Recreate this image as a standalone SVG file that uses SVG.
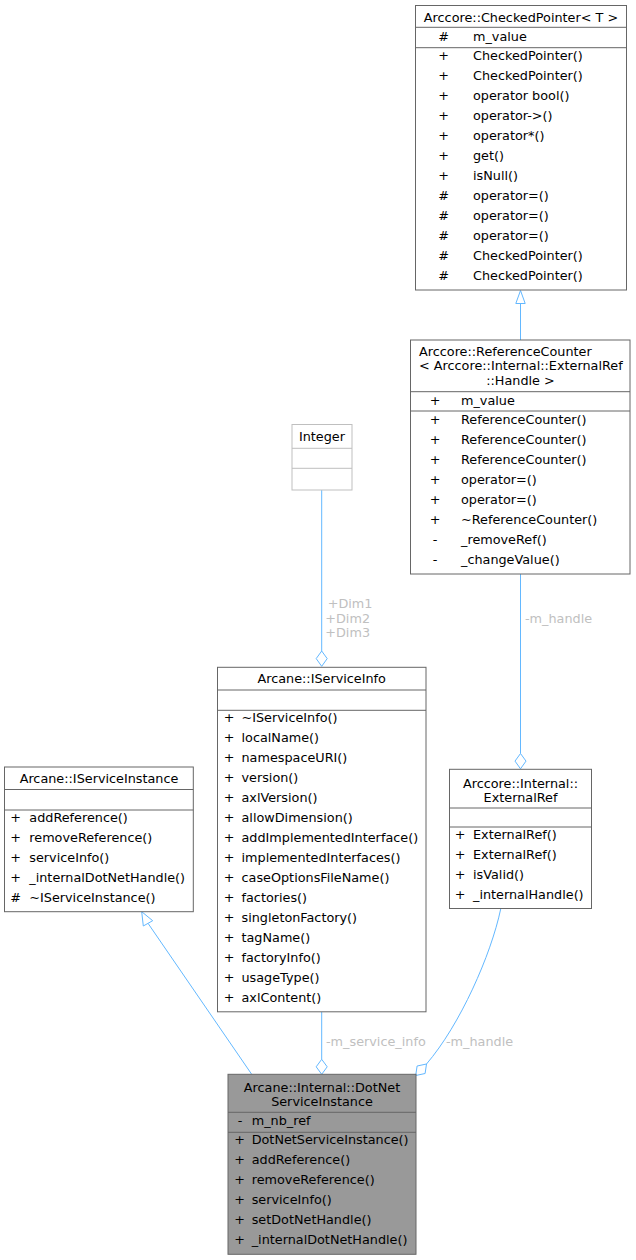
<svg xmlns="http://www.w3.org/2000/svg" width="636" height="1260" viewBox="0 0 636 1260">
<style>
text{font-family:"DejaVu Sans","Liberation Sans",sans-serif;font-size:12.8px;fill:#000}
.box{fill:#fff;stroke:#666;stroke-width:1}
.sel{fill:#999;stroke:#666;stroke-width:1}
.ext{fill:#fff;stroke:#bfbfbf;stroke-width:1}
.sep{stroke:#666;stroke-width:1}
.sepx{stroke:#bfbfbf;stroke-width:1}
.c{text-anchor:middle}
.edge{fill:none;stroke:#63b8ff;stroke-width:1}
.head{fill:#fff;stroke:#63b8ff;stroke-width:1}
.lbl{fill:#c0c0c0}
</style>
<rect width="636" height="1260" fill="#fff"/>

<g id="connectors">
  <line class="edge" x1="520.5" y1="340" x2="520.5" y2="303.5"/>
  <polygon class="head" points="520.5,290.5 525.2,303.5 515.8,303.5"/>
  <line class="edge" x1="321.7" y1="490" x2="321.7" y2="651"/>
  <polygon class="head" points="321.7,651 327.2,658.6 321.7,666.3 316.2,658.6"/>
  <text class="lbl" x="327.7" y="608">+Dim1</text>
  <text class="lbl" x="325.3" y="622.5">+Dim2</text>
  <text class="lbl" x="325.3" y="637">+Dim3</text>
  <line class="edge" x1="520.5" y1="574" x2="520.5" y2="753.5"/>
  <polygon class="head" points="520.5,753.5 526,761.1 520.5,768.8 515,761.1"/>
  <text class="lbl" x="525" y="623">-m_handle</text>
  <line class="edge" x1="251.7" y1="1074.3" x2="148" y2="923.3"/>
  <polygon class="head" points="141.7,911.7 152.7,920.7 143.3,926"/>
  <line class="edge" x1="321.7" y1="1012" x2="321.7" y2="1059.3"/>
  <polygon class="head" points="321.7,1059.3 327.2,1066.8 321.7,1074.3 316.2,1066.8"/>
  <text class="lbl" x="326" y="1046">-m_service_info</text>
  <path class="edge" d="M500.7,909 C491,955 460,1025 426.5,1064"/>
  <polygon class="head" points="426.5,1064 425.1,1073.5 415.7,1075.5 417.1,1066"/>
  <text class="lbl" x="446" y="1046">-m_handle</text>
</g>

<g id="node-checkedpointer">
  <rect class="box" x="415.5" y="5.5" width="211" height="284.5"/>
  <line class="sep" x1="415.5" y1="27.3" x2="626.5" y2="27.3"/>
  <line class="sep" x1="415.5" y1="47.7" x2="626.5" y2="47.7"/>
  <text class="c" x="521" y="21.5">Arccore::CheckedPointer&lt; T &gt;</text>
  <text class="c" x="443.5" y="40.5">#</text><text x="473" y="40.5">m_value</text>
  <text class="c" x="443.5" y="60">+</text><text x="473" y="60">CheckedPointer()</text>
  <text class="c" x="443.5" y="80">+</text><text x="473" y="80">CheckedPointer()</text>
  <text class="c" x="443.5" y="100">+</text><text x="473" y="100">operator bool()</text>
  <text class="c" x="443.5" y="120">+</text><text x="473" y="120">operator-&gt;()</text>
  <text class="c" x="443.5" y="140">+</text><text x="473" y="140">operator*()</text>
  <text class="c" x="443.5" y="160">+</text><text x="473" y="160">get()</text>
  <text class="c" x="443.5" y="180">+</text><text x="473" y="180">isNull()</text>
  <text class="c" x="443.5" y="200">#</text><text x="473" y="200">operator=()</text>
  <text class="c" x="443.5" y="220">#</text><text x="473" y="220">operator=()</text>
  <text class="c" x="443.5" y="240">#</text><text x="473" y="240">operator=()</text>
  <text class="c" x="443.5" y="260">#</text><text x="473" y="260">CheckedPointer()</text>
  <text class="c" x="443.5" y="280">#</text><text x="473" y="280">CheckedPointer()</text>
</g>

<g id="node-referencecounter">
  <rect class="box" x="410.5" y="340" width="219.5" height="234"/>
  <line class="sep" x1="410.5" y1="391.7" x2="630" y2="391.7"/>
  <line class="sep" x1="410.5" y1="411" x2="630" y2="411"/>
  <text x="419" y="355.5">Arccore::ReferenceCounter</text>
  <text x="419" y="370">&lt; Arccore::Internal::ExternalRef</text>
  <text class="c" x="520.5" y="384.5">::Handle &gt;</text>
  <text class="c" x="435" y="404.5">+</text><text x="461" y="404.5">m_value</text>
  <text class="c" x="435" y="424">+</text><text x="461" y="424">ReferenceCounter()</text>
  <text class="c" x="435" y="444">+</text><text x="461" y="444">ReferenceCounter()</text>
  <text class="c" x="435" y="464">+</text><text x="461" y="464">ReferenceCounter()</text>
  <text class="c" x="435" y="484">+</text><text x="461" y="484">operator=()</text>
  <text class="c" x="435" y="504">+</text><text x="461" y="504">operator=()</text>
  <text class="c" x="435" y="524">+</text><text x="461" y="524">~ReferenceCounter()</text>
  <text class="c" x="435" y="544">-</text><text x="461" y="544">_removeRef()</text>
  <text class="c" x="435" y="564">-</text><text x="461" y="564">_changeValue()</text>
</g>

<g id="node-integer">
  <rect class="ext" x="292" y="424.5" width="60" height="65.5"/>
  <line class="sepx" x1="292" y1="448.3" x2="352" y2="448.3"/>
  <line class="sepx" x1="292" y1="468.3" x2="352" y2="468.3"/>
  <text class="c" x="322" y="441">Integer</text>
</g>

<g id="node-iserviceinfo">
  <rect class="box" x="217.5" y="667.3" width="208.5" height="344.5"/>
  <line class="sep" x1="217.5" y1="690" x2="426" y2="690"/>
  <line class="sep" x1="217.5" y1="710.3" x2="426" y2="710.3"/>
  <text class="c" x="321.7" y="683">Arcane::IServiceInfo</text>
  <text class="c" x="229" y="722">+</text><text x="241.5" y="722">~IServiceInfo()</text>
  <text class="c" x="229" y="742">+</text><text x="241.5" y="742">localName()</text>
  <text class="c" x="229" y="762">+</text><text x="241.5" y="762">namespaceURI()</text>
  <text class="c" x="229" y="782">+</text><text x="241.5" y="782">version()</text>
  <text class="c" x="229" y="802">+</text><text x="241.5" y="802">axlVersion()</text>
  <text class="c" x="229" y="822">+</text><text x="241.5" y="822">allowDimension()</text>
  <text class="c" x="229" y="842">+</text><text x="241.5" y="842">addImplementedInterface()</text>
  <text class="c" x="229" y="862">+</text><text x="241.5" y="862">implementedInterfaces()</text>
  <text class="c" x="229" y="882">+</text><text x="241.5" y="882">caseOptionsFileName()</text>
  <text class="c" x="229" y="902">+</text><text x="241.5" y="902">factories()</text>
  <text class="c" x="229" y="922">+</text><text x="241.5" y="922">singletonFactory()</text>
  <text class="c" x="229" y="942">+</text><text x="241.5" y="942">tagName()</text>
  <text class="c" x="229" y="962">+</text><text x="241.5" y="962">factoryInfo()</text>
  <text class="c" x="229" y="982">+</text><text x="241.5" y="982">usageType()</text>
  <text class="c" x="229" y="1002">+</text><text x="241.5" y="1002">axlContent()</text>
</g>

<g id="node-iserviceinstance">
  <rect class="box" x="4.5" y="767" width="188.8" height="144.7"/>
  <line class="sep" x1="4.5" y1="789.5" x2="193.3" y2="789.5"/>
  <line class="sep" x1="4.5" y1="810" x2="193.3" y2="810"/>
  <text class="c" x="99" y="782.7">Arcane::IServiceInstance</text>
  <text class="c" x="15.7" y="822">+</text><text x="29.3" y="822">addReference()</text>
  <text class="c" x="15.7" y="842">+</text><text x="29.3" y="842">removeReference()</text>
  <text class="c" x="15.7" y="862">+</text><text x="29.3" y="862">serviceInfo()</text>
  <text class="c" x="15.7" y="882">+</text><text x="29.3" y="882">_internalDotNetHandle()</text>
  <text class="c" x="15.7" y="902">#</text><text x="29.3" y="902">~IServiceInstance()</text>
</g>

<g id="node-externalref">
  <rect class="box" x="449.5" y="769.3" width="142" height="139.2"/>
  <line class="sep" x1="449.5" y1="808" x2="591.5" y2="808"/>
  <line class="sep" x1="449.5" y1="827" x2="591.5" y2="827"/>
  <text class="c" x="520.5" y="788">Arccore::Internal::</text>
  <text class="c" x="520.5" y="802">ExternalRef</text>
  <text class="c" x="460" y="839">+</text><text x="473" y="839">ExternalRef()</text>
  <text class="c" x="460" y="859">+</text><text x="473" y="859">ExternalRef()</text>
  <text class="c" x="460" y="879">+</text><text x="473" y="879">isValid()</text>
  <text class="c" x="460" y="899">+</text><text x="473" y="899">_internalHandle()</text>
</g>

<g id="node-dotnetserviceinstance">
  <rect class="sel" x="228" y="1074.3" width="188" height="180"/>
  <line class="sep" x1="228" y1="1112.3" x2="416" y2="1112.3"/>
  <line class="sep" x1="228" y1="1132.3" x2="416" y2="1132.3"/>
  <text class="c" x="322" y="1091.5">Arcane::Internal::DotNet</text>
  <text class="c" x="322" y="1106">ServiceInstance</text>
  <text class="c" x="240" y="1125">-</text><text x="251.7" y="1125">m_nb_ref</text>
  <text class="c" x="239.5" y="1144">+</text><text x="251.7" y="1144">DotNetServiceInstance()</text>
  <text class="c" x="239.5" y="1164">+</text><text x="251.7" y="1164">addReference()</text>
  <text class="c" x="239.5" y="1184">+</text><text x="251.7" y="1184">removeReference()</text>
  <text class="c" x="239.5" y="1204">+</text><text x="251.7" y="1204">serviceInfo()</text>
  <text class="c" x="239.5" y="1224">+</text><text x="251.7" y="1224">setDotNetHandle()</text>
  <text class="c" x="239.5" y="1244">+</text><text x="251.7" y="1244">_internalDotNetHandle()</text>
</g>
</svg>
